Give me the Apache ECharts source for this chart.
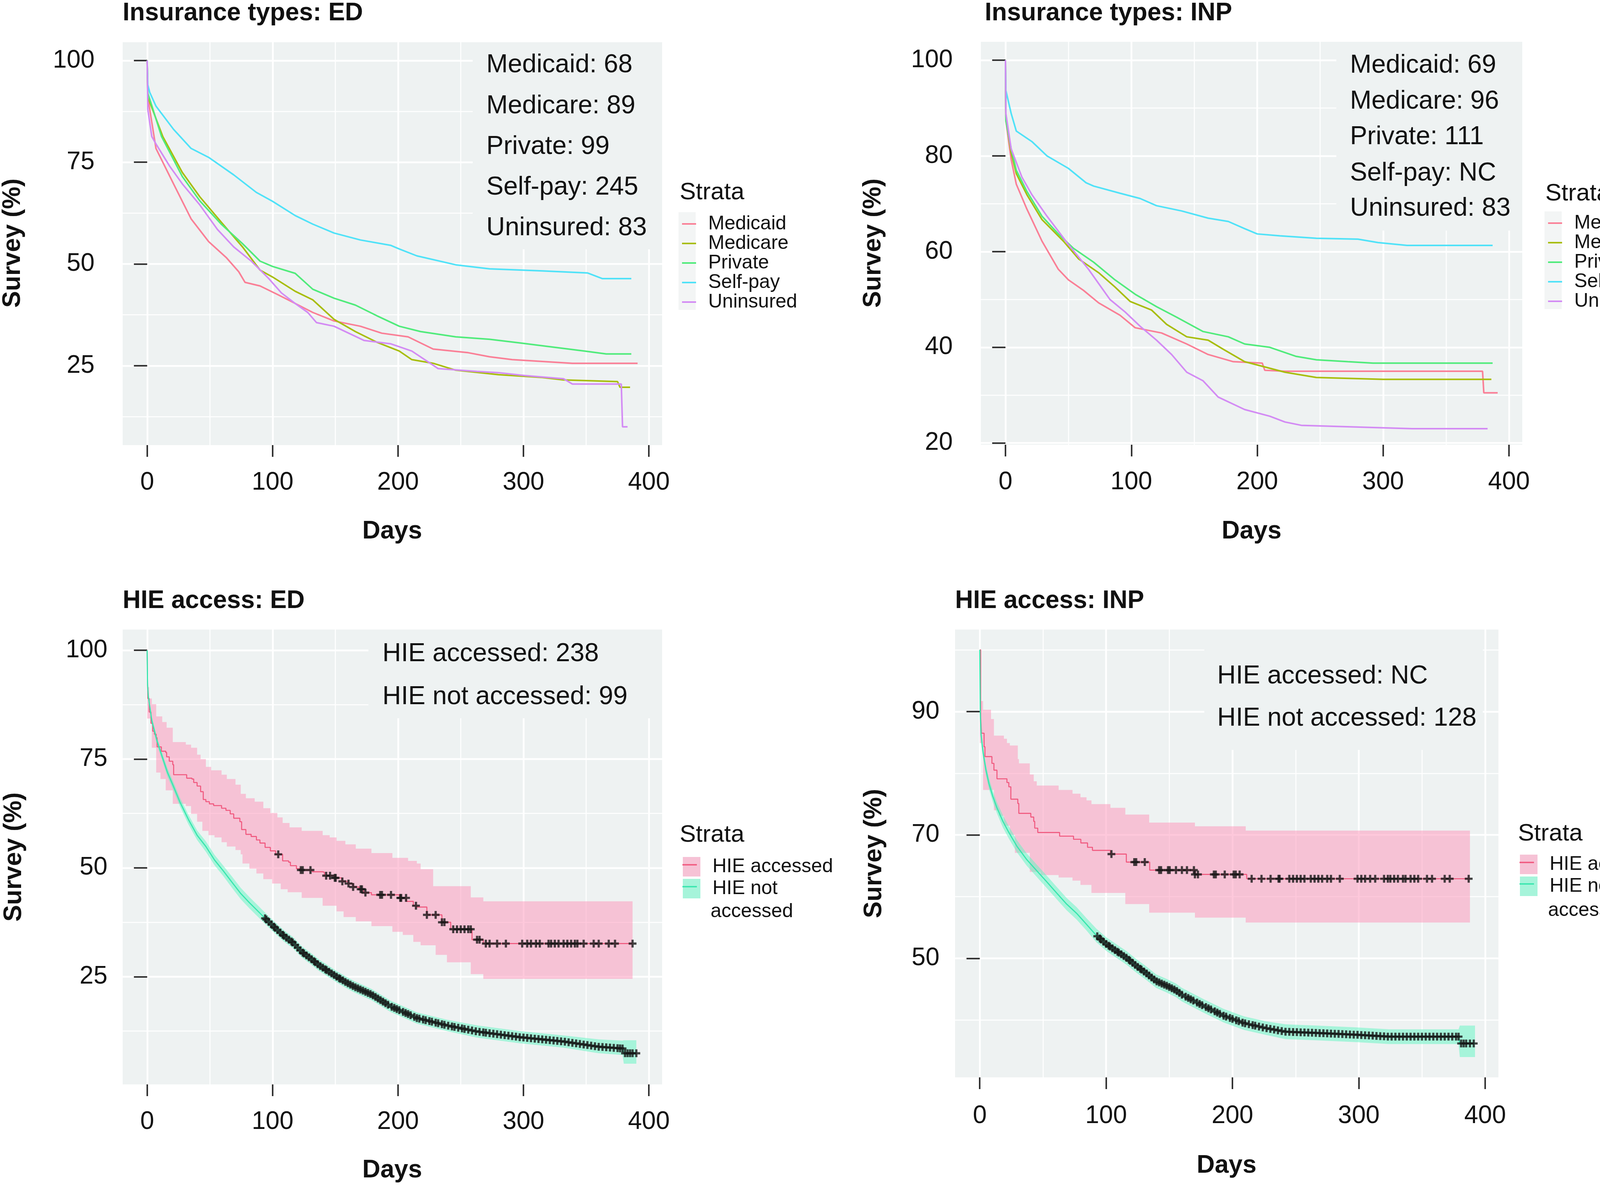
<!DOCTYPE html>
<html><head><meta charset="utf-8">
<script src="https://cdn.jsdelivr.net/npm/echarts@6/dist/echarts.min.js"></script>
<style>html,body{margin:0;padding:0;background:#fff}#c{width:4254px;height:3035px}</style>
</head><body><div id="c"></div><script>
// ---------------- DATA ----------------
const strataNames = ['Medicaid','Medicare','Private','Self-pay','Uninsured'];
const hieNames = ['HIE accessed','HIE not accessed'];
const xTicks = [0,100,200,300,400];
const xMinor = [50,150,250,350];
const yTicksTL = [25,50,75,100], yMinorTL = [12.5,37.5,62.5,87.5];
const yTicksTR = [20,40,60,80,100], yMinorTR = [30,50,70,90];
const yTicksBL = [25,50,75,100], yMinorBL = [12.5,37.5,62.5,87.5];
const yTicksBR = [50,70,90], yMinorBR = [40,60,80,100];

const annTL = ['Medicaid: 68','Medicare: 89','Private: 99','Self-pay: 245','Uninsured: 83'];
const annTR = ['Medicaid: 69','Medicare: 96','Private: 111','Self-pay: NC','Uninsured: 83'];
const annBL = ['HIE accessed: 238','HIE not accessed: 99'];
const annBR = ['HIE accessed: NC','HIE not accessed: 128'];

// Insurance types: ED  [day, survival %]
const edMedicaid = [[0,100],[0.5,91],[7,78.4],[21,69.7],[35,61.1],[49,55.5],[63,51.6],[73,48.1],[78,45.5],[90,44.6],[104,42.5],[118,40.3],[132,38.1],[149,36.0],[170,34.7],[187,33.0],[208,32.1],[228,29.1],[256,28.2],[273,27.2],[291,26.5],[339,25.6],[391,25.6]];
const edMedicare = [[0,100],[0.5,91],[12.5,81.3],[28,72.5],[42,66.5],[59,60.3],[76,54.2],[90,48.5],[100,46.8],[118,43.3],[132,41.2],[149,36.4],[166,33.4],[183,30.8],[201,28.6],[211,26.5],[228,25.6],[246,23.9],[280,22.8],[315,22.1],[332,21.5],[375,21.1],[377,19.7],[385,19.7]];
const edPrivate = [[0,100],[0.5,92],[11.5,81.3],[28,71.5],[42,65.5],[59,59.8],[76,55.0],[90,50.7],[100,49.4],[118,47.7],[132,43.8],[149,41.6],[166,39.9],[183,37.3],[201,34.7],[218,33.4],[246,32.1],[273,31.5],[297,30.6],[318,29.8],[349,28.6],[366,27.9],[386,27.9]];
const edSelfPay = [[0,100],[0.5,94],[2,92.2],[7,88.8],[21,83.1],[35,78.4],[49,76.2],[69,71.9],[87,67.6],[100,65.4],[118,61.9],[132,59.8],[149,57.6],[170,55.9],[194,54.6],[201,53.7],[215,52.0],[246,49.8],[273,48.8],[315,48.3],[351,47.8],[363,46.4],[386,46.4]];
const edUninsured = [[0,100],[0.5,88],[3.7,81.3],[7,79.5],[18,74.0],[28,69.7],[42,64.5],[56,58.5],[69,54.2],[83,50.7],[97,46.4],[107,42.9],[118,40.3],[128,38.1],[135,35.6],[149,34.7],[173,31.2],[194,30.4],[211,28.6],[232,24.3],[263,23.6],[280,23.3],[301,22.6],[332,21.8],[339,20.5],[378,20.5],[379,10.0],[383,10.0]];

// Insurance types: INP
const inpMedicaid = [[0,100],[0.3,87.4],[4.5,79.3],[8.6,74.1],[17,68.9],[29,62.2],[42,56.3],[50,54.1],[62,51.9],[74,49.3],[91,46.7],[103,44.1],[124,43.0],[144,40.7],[161,38.5],[181,37.0],[204,36.7],[206,35.2],[222,35.0],[379,35.0],[380,30.5],[391,30.5]];
const inpMedicare = [[0,100],[0.3,88.1],[4.5,80.7],[8.6,76.3],[17,71.9],[29,66.7],[46,62.2],[58,58.5],[74,55.6],[87,52.6],[99,49.6],[116,47.8],[128,44.8],[144,42.2],[161,41.5],[173,39.6],[190,37.0],[206,35.9],[222,34.8],[247,33.7],[300,33.3],[386,33.3]];
const inpPrivate = [[0,100],[0.3,87.4],[4.5,81.5],[8.6,77.0],[17,72.6],[29,67.4],[42,63.7],[54,60.7],[70,57.8],[87,54.1],[103,51.1],[120,48.5],[136,46.3],[157,43.3],[177,42.2],[190,40.7],[210,40.0],[231,38.1],[247,37.4],[272,37.0],[292,36.7],[387,36.7]];
const inpSelfPay = [[0,100],[0.3,93.7],[4.5,88.9],[8.6,85.2],[21,83.0],[33,80.0],[50,77.4],[64,74.4],[70,73.7],[91,72.2],[107,71.1],[120,69.6],[140,68.5],[161,67.0],[177,66.3],[190,64.8],[200,63.7],[218,63.3],[247,62.8],[280,62.6],[296,61.9],[319,61.3],[387,61.3]];
const inpUninsured = [[0,100],[0.3,88.9],[4.5,81.5],[13,75.6],[21,71.9],[33,67.4],[50,61.5],[66,56.3],[83,50.0],[95,47.4],[107,44.4],[120,41.5],[132,38.5],[144,34.8],[157,33.0],[169,29.6],[190,27.0],[210,25.6],[222,24.4],[235,23.7],[323,23.0],[383,23.0]];

// HIE access: ED
const edAcc = [[0,100],[0.5,88.9],[1.6,85.8],[3,83.2],[4.4,81.4],[5.8,80.7],[7.2,79.9],[7.9,77.8],[11.3,76.8],[14.8,76.5],[15.5,75.5],[17.6,74.5],[20.4,73.7],[21.1,71.4],[30.8,71.4],[31.5,70.6],[35.7,70.4],[37.1,69.6],[39.8,68.8],[42.6,67.5],[44.7,65.7],[46.8,65.2],[49.6,64.7],[53,64.3],[59.3,63.7],[62.8,63.2],[66.2,62.4],[69,61.4],[73.9,60.6],[75.3,58.8],[78.7,57.7],[82.9,57.2],[87.1,56.4],[89.9,55.7],[94,54.7],[98.2,53.9],[102.4,53.1],[108,51.6],[112.8,51.3],[114.2,50.5],[119,49.8],[122.5,49.5],[131.6,49.1],[139.9,49.0],[141.3,48.2],[149.6,47.7],[155.2,46.9],[160,46.4],[164.2,45.6],[169.1,45.1],[172.6,44.3],[178.8,43.8],[201,43.1],[206.6,42.3],[212.2,41.3],[215,41.0],[223,39.2],[235,37.5],[242,35.9],[259,33.5],[268,32.6],[387,32.6]];
const edAccHi = [[0,91.5],[1.6,88.9],[3.7,87.6],[7.2,84.8],[12,83.5],[15.5,82.2],[20.4,78.9],[30.8,78.3],[35,77.6],[39.8,76.0],[42.6,75.0],[46.8,73.2],[51,72.4],[59.3,71.4],[63.5,70.4],[70.4,69.1],[74.6,67.0],[78.7,66.0],[85.7,65.2],[92.6,63.7],[98.2,62.6],[103.8,61.6],[108,60.3],[113.5,59.3],[123.2,58.5],[139.9,57.5],[145.5,57.0],[151,56.2],[158,55.4],[166.3,54.4],[178.8,53.4],[195.5,52.3],[208,51.6],[215,51.0],[218,49.7],[228,45.8],[258,43.2],[268,42.3],[387,42.3]];
const edAccLo = [[0,84.3],[3.7,77.6],[7.2,71.9],[10.6,70.4],[14.8,67.8],[20.4,64.7],[30.8,64.2],[35,62.4],[39.8,60.6],[44,58.5],[48.9,57.5],[53.7,57.0],[59.3,55.9],[63.5,54.9],[70.4,54.1],[74.6,53.1],[76,51.0],[81.5,49.8],[87.1,48.7],[92.6,47.4],[99.6,46.4],[106.5,45.1],[112,44.4],[123.2,43.1],[139.9,41.3],[151,40.0],[156.6,38.7],[166.3,37.7],[178.8,36.6],[195.5,35.3],[203.8,34.6],[212.2,33.0],[218,32.2],[230,30.0],[239,28.3],[258,25.6],[268,24.5],[387,24.5]];
const edNot = [[0,100],[0.3,92],[0.9,89.4],[3.7,83.8],[7.9,79.1],[12,75.5],[16.2,71.9],[20.4,69.1],[26,65.2],[32.9,61.1],[39.8,57.5],[46.8,54.9],[53.7,51.8],[60.7,49.3],[67.6,46.7],[74.6,44.1],[81.5,42.0],[88.5,40.0],[94,38.4],[102.4,36.1],[109.3,34.3],[116.3,32.8],[123.2,30.7],[130.2,29.2],[137.1,27.6],[144.1,26.3],[151,25.0],[158,23.8],[165,22.7],[178.8,20.9],[194,18.2],[215,15.5],[239,13.8],[263,12.4],[297,11.1],[332,10.1],[360,8.9],[379,8.5],[380,7.4],[390,7.4]];
const edNotHi = [[0,100],[0.9,90.3],[3.7,84.7],[7.9,80.0],[12,76.4],[16.2,72.9],[20.4,70.1],[26,66.2],[32.9,62.2],[39.8,58.6],[46.8,56.1],[53.7,53.0],[60.7,50.5],[67.6,48.0],[74.6,45.4],[81.5,43.3],[88.5,41.3],[94,39.7],[102.4,37.4],[109.3,35.6],[116.3,34.1],[123.2,32.0],[130.2,30.5],[137.1,28.9],[144.1,27.6],[151,26.3],[158,25.1],[165,24.0],[178.8,22.2],[194,19.5],[215,16.8],[239,15.1],[263,13.8],[297,12.5],[332,11.5],[360,10.6],[379,10.3],[380,10.4],[390,10.4]];
const edNotLo = [[0,100],[0.9,88.5],[3.7,82.9],[7.9,78.2],[12,74.6],[16.2,70.9],[20.4,68.1],[26,64.2],[32.9,60.0],[39.8,56.4],[46.8,53.7],[53.7,50.6],[60.7,48.1],[67.6,45.4],[74.6,42.8],[81.5,40.7],[88.5,38.7],[94,37.1],[102.4,34.8],[109.3,33.0],[116.3,31.5],[123.2,29.4],[130.2,27.9],[137.1,26.3],[144.1,25.0],[151,23.7],[158,22.5],[165,21.4],[178.8,19.6],[194,16.9],[215,14.2],[239,12.5],[263,11.0],[297,9.7],[332,8.7],[360,7.4],[379,7.0],[380,5.0],[390,5.0]];
const edAccCensor = [104.5,122.5,124,130.2,142.7,145.8,149.6,150.3,155.6,160.5,164.2,170.2,171.2,174,185.8,187.2,194.4,201.8,202.5,206.4,214.3,223,230,235,237,244,247,250,253,256,258,263,265,270,273,279,286,299,303,306,310,313,320,322,325,328,332,335,338,341,343,348,356,360,368,373,387];
const edNotCensor = [94,95,97,99,101,102,104,106,108,109,111,113,115,116,118,120,122,124,125,127,129,131,133,134,136,138,140,142,143,145,147,149,151,153,154,156,158,160,162,164,166,168,170,172,174,176,178,180,182,184,186,188,190,192,195,197,199,201,204,206,208,210,213,215,217,220,222,225,227,230,232,235,237,240,243,245,248,251,253,256,259,262,265,268,270,273,276,279,282,285,288,291,294,297,300,303,306,309,312,315,318,321,324,327,330,333,336,339,342,345,348,351,354,357,360,363,366,369,372,375,377,379,381,383,385,387,390];

// HIE access: INP
const inpAcc = [[0,100],[0.7,89.2],[1.3,86.5],[3.4,84.3],[4.1,82.7],[9.6,81.6],[11.2,80.5],[13.6,79.1],[21.5,78.5],[23,77.8],[24.6,75.8],[30.1,75.1],[30.9,73.5],[40.4,72.9],[42.7,72.2],[43.5,71.1],[45.9,70.4],[63.2,69.8],[74.2,69.3],[80,68.7],[85.3,68.0],[89.2,67.5],[103.4,66.9],[116,65.6],[134.5,64.3],[170.3,63.6],[211.3,62.9],[388,62.9]];
const inpAccHi = [[0,91.7],[2.6,90.3],[8.9,88.8],[11.2,86.1],[19.1,85.6],[21.5,84.9],[23.8,84.5],[30.1,82.3],[31,81.6],[39.6,79.8],[42.7,78.7],[45.1,78.0],[62.4,77.3],[73.4,76.7],[79.7,76.1],[84.5,75.6],[88.4,75.0],[103.4,74.4],[115.2,73.3],[134.1,72.0],[170.3,71.4],[210.5,70.7],[388,70.7]];
const inpAccLo = [[0,84.9],[2.6,77.3],[11.2,74.0],[15.2,73.1],[19.1,71.5],[23.8,70.0],[27.8,67.1],[39.6,64.0],[48.2,63.5],[62.4,63.1],[73.4,62.6],[79.7,61.9],[88.4,60.6],[115.2,58.8],[134.1,57.4],[170.3,56.6],[210.5,55.8],[388,55.8]];
const inpNot = [[0,100],[0.4,90],[1,86.3],[2.6,83.4],[4.9,80.5],[7.3,78.3],[10.4,76.2],[13.6,74.4],[18.3,72.2],[23,70.4],[29.3,68.2],[37.2,66.0],[45.1,64.2],[53,62.4],[60.8,60.6],[68.7,58.8],[76.6,57.3],[84.5,55.5],[92.3,53.7],[100.2,52.3],[108,51.2],[116,50.1],[123.8,48.8],[131.7,47.6],[139.6,46.3],[147.5,45.6],[155.3,44.8],[160,44.1],[177,42.3],[193,40.7],[209,39.5],[226,38.7],[242,38.1],[267,37.9],[299,37.6],[324,37.3],[379,37.3],[380,36.2],[392,36.2]];
const inpNotHi = [[0,100],[1,87.2],[2.6,84.3],[4.9,81.4],[7.3,79.2],[10.4,77.1],[13.6,75.3],[18.3,73.2],[23,71.4],[29.3,69.2],[37.2,67.0],[45.1,65.2],[53,63.4],[60.8,61.6],[68.7,59.8],[76.6,58.3],[84.5,56.5],[92.3,54.8],[100.2,53.4],[108,52.3],[116,51.2],[123.8,49.9],[131.7,48.7],[139.6,47.4],[147.5,46.7],[155.3,45.9],[160,45.2],[177,43.4],[193,41.8],[209,40.6],[226,39.8],[242,39.3],[267,39.1],[299,38.8],[324,38.5],[379,38.5],[380,39.1],[392,39.1]];
const inpNotLo = [[0,100],[1,85.4],[2.6,82.5],[4.9,79.6],[7.3,77.4],[10.4,75.3],[13.6,73.5],[18.3,71.2],[23,69.4],[29.3,67.2],[37.2,65.0],[45.1,63.2],[53,61.4],[60.8,59.6],[68.7,57.8],[76.6,56.3],[84.5,54.5],[92.3,52.6],[100.2,51.2],[108,50.1],[116,49.0],[123.8,47.7],[131.7,46.5],[139.6,45.2],[147.5,44.5],[155.3,43.7],[160,43.0],[177,41.2],[193,39.6],[209,38.4],[226,37.6],[242,36.9],[267,36.7],[299,36.4],[324,36.1],[379,36.1],[380,34.0],[392,34.0]];
const inpAccCensor = [104.2,122.3,123.8,130.6,142,143.5,149,150.3,155.3,160,164,169.5,170.3,172.7,185.3,186.8,193.9,201,202.6,205.7,215.2,223,230.2,236.5,237.3,245,248,251,254,257,262,265,268,271,275,278,285,299,302,305,309,313,320,323,325,328,331,335,337,341,344,347,354,358,368,372,387];
const inpNotCensor = [93,95,96,98,100,102,103,105,107,109,110,112,114,116,118,119,121,123,125,127,128,130,132,134,136,138,140,142,144,146,148,150,152,154,156,158,160,163,165,167,169,172,174,176,179,181,183,186,188,190,193,195,198,200,203,205,208,210,213,216,218,221,224,227,230,233,236,239,242,245,248,251,254,257,260,263,266,269,272,275,278,281,284,287,290,293,296,299,302,305,308,311,314,317,320,323,326,329,332,335,338,341,344,347,350,353,356,359,362,365,368,371,374,377,379,381,383,385,388,391];

// ---------------- STYLE / LAYOUT ----------------
const FF = '"Liberation Sans", Arial, sans-serif';
const FFC = '"Liberation Sans"';
const PANEL = '#EEF2F2';
const TXT = '#111111';
const strataColors = ['#FA7F96','#A8BD0C','#50EB7B','#4FE2F8','#D38BF4'];
const accLine = '#F0587E', notLine = '#38E6AE';
const accRibbon = 'rgba(254,146,184,0.5)', notRibbon = 'rgba(94,246,194,0.5)';
const accKey = '#F6C2D5', notKey = '#A6F4DA';
const X_MIN = -19.55, X_MAX = 410.55;
const grids = [
  {left:314, top:108, width:1381, height:1031},
  {left:2511, top:107, width:1386, height:1031},
  {left:314, top:1611, width:1381, height:1164},
  {left:2445, top:1611, width:1391, height:1146}
];
const yRanges = [[5.5,104.5],[19.65,103.85],[0.25,104.75],[30.7,103.3]];
const yTicks = [yTicksTL,yTicksTR,yTicksBL,yTicksBR];
const yMinors = [yMinorTL,yMinorTR,yMinorBL,yMinorBR];
const yMargins = [72,72,39,40];
const xMargins = [64,64,64,67];

const chart = echarts.init(document.getElementById('c'), null, {renderer:'canvas'});

const xAxis = [], yAxis = [];
for (let g = 0; g < 4; g++) {
  xAxis.push({type:'value', gridIndex:g, min:X_MIN, max:X_MAX, axisLine:{show:false},
    axisTick:{show:true, customValues:xTicks, length:30, lineStyle:{color:'#333', width:4}},
    axisLabel:{show:true, customValues:xTicks, margin:xMargins[g], fontSize:64, fontFamily:FF, color:TXT},
    splitLine:{show:true, lineStyle:{color:'#FFFFFF', width:4.5}}});
  yAxis.push({type:'value', gridIndex:g, min:yRanges[g][0], max:yRanges[g][1], axisLine:{show:false},
    axisTick:{show:true, customValues:yTicks[g], length:34, lineStyle:{color:'#333', width:4}},
    axisLabel:{show:true, customValues:yTicks[g], margin:yMargins[g], fontSize:64, fontFamily:FF, color:TXT},
    splitLine:{show:true, lineStyle:{color:'#FFFFFF', width:4.5}}});
}
for (let g = 0; g < 4; g++) {
  xAxis.push({type:'value', gridIndex:g, min:X_MIN, max:X_MAX, axisLine:{show:false},
    axisTick:{show:false, customValues:xMinor}, axisLabel:{show:false},
    splitLine:{show:true, lineStyle:{color:'#FFFFFF', width:2.5}}});
  yAxis.push({type:'value', gridIndex:g, min:yRanges[g][0], max:yRanges[g][1], axisLine:{show:false},
    axisTick:{show:false, customValues:yMinors[g]}, axisLabel:{show:false},
    splitLine:{show:true, lineStyle:{color:'#FFFFFF', width:2.5}}});
}

function lineSeries(name, data, g, color, width, step) {
  return {type:'line', name, xAxisIndex:g, yAxisIndex:g, data, symbol:'none', showSymbol:false,
    step: step ? 'end' : false, lineStyle:{color, width}, itemStyle:{color}, z:3, silent:true, animation:false};
}
function valueAt(pts, d, step) {
  for (let i = pts.length - 1; i >= 0; i--) {
    if (pts[i][0] <= d) {
      if (step || i === pts.length - 1) return pts[i][1];
      const a = pts[i], b = pts[i + 1];
      return a[1] + (b[1] - a[1]) * (d - a[0]) / (b[0] - a[0]);
    }
  }
  return pts[0][1];
}
function bandSeries(name, hi, lo, g, color, step) {
  return {type:'custom', name, xAxisIndex:g, yAxisIndex:g, data:[[hi[0][0], hi[0][1]]], silent:true, z:2, animation:false,
    renderItem: function (params, api) {
      const pts = [];
      for (let i = 0; i < hi.length; i++) {
        pts.push(api.coord([hi[i][0], hi[i][1]]));
        if (step && i < hi.length - 1) pts.push(api.coord([hi[i + 1][0], hi[i][1]]));
      }
      for (let i = lo.length - 1; i >= 0; i--) {
        if (step && i < lo.length - 1) pts.push(api.coord([lo[i + 1][0], lo[i][1]]));
        pts.push(api.coord([lo[i][0], lo[i][1]]));
      }
      return {type:'polygon', shape:{points:pts}, style:{fill:color}};
    }};
}
const PLUS = 'path://M3.6,0H6.4V3.6H10V6.4H6.4V10H3.6V6.4H0V3.6H3.6Z';
function censorSeries(name, days, curve, g, step) {
  return {type:'scatter', name, xAxisIndex:g, yAxisIndex:g, data: days.map(d => [d, valueAt(curve, d, step)]),
    symbol:PLUS, symbolSize:20, itemStyle:{color:'#161616'}, z:4, silent:true, animation:false};
}

const edCurves = [edMedicaid, edMedicare, edPrivate, edSelfPay, edUninsured];
const inpCurves = [inpMedicaid, inpMedicare, inpPrivate, inpSelfPay, inpUninsured];
const series = [];
strataNames.forEach((n, i) => series.push(lineSeries(n, edCurves[i], 0, strataColors[i], 4, false)));
strataNames.forEach((n, i) => series.push(lineSeries(n, inpCurves[i], 1, strataColors[i], 4, false)));
// HIE ED
series.push(bandSeries('HIE accessed CI', edAccHi, edAccLo, 2, accRibbon, true));
series.push(bandSeries('HIE not accessed CI', edNotHi, edNotLo, 2, notRibbon, false));
series.push(lineSeries('HIE accessed', edAcc, 2, accLine, 2.6, true));
series.push(lineSeries('HIE not accessed', edNot, 2, notLine, 3, false));
series.push(censorSeries('HIE accessed censored', edAccCensor, edAcc, 2, true));
series.push(censorSeries('HIE not accessed censored', edNotCensor, edNot, 2, false));
// HIE INP
series.push(bandSeries('HIE accessed CI', inpAccHi, inpAccLo, 3, accRibbon, true));
series.push(bandSeries('HIE not accessed CI', inpNotHi, inpNotLo, 3, notRibbon, false));
series.push(lineSeries('HIE accessed', inpAcc, 3, accLine, 2.6, true));
series.push(lineSeries('HIE not accessed', inpNot, 3, notLine, 3, false));
series.push(censorSeries('HIE accessed censored', inpAccCensor, inpAcc, 3, true));
series.push(censorSeries('HIE not accessed censored', inpNotCensor, inpNot, 3, false));

// ---------------- TEXT / DECOR ----------------
const graphic = [];
function txt(x, y, text, size, opts) {
  opts = opts || {};
  graphic.push({type:'text', x, y, rotation: opts.rot || 0, z:100, silent:true,
    style:{text, font:(opts.bold ? 'bold ' : '') + size + 'px ' + FFC, fill:TXT,
      align: opts.align || 'left', verticalAlign:'middle'}});
}
function rect(x, y, w, h, fill) {
  graphic.push({type:'rect', z:1, silent:true, shape:{x, y, width:w, height:h}, style:{fill}});
}
// titles
txt(314, 34, 'Insurance types: ED', 64, {bold:true});
txt(2521, 34, 'Insurance types: INP', 64, {bold:true});
txt(314, 1538, 'HIE access: ED', 64, {bold:true});
txt(2445, 1538, 'HIE access: INP', 64, {bold:true});
// axis names
const daysPos = [[1004,1360],[3204,1360],[1004,2995],[3140,2983]];
daysPos.forEach(p => txt(p[0], p[1], 'Days', 64, {bold:true, align:'center'}));
const survPos = [[33,622],[2236,622],[36,2193],[2238,2184]];
survPos.forEach(p => txt(p[0], p[1], 'Survey (%)', 64, {bold:true, align:'center', rot:Math.PI/2}));
// annotation boxes + text
rect(1210, 108, 485, 530, PANEL);
rect(3421, 107, 476, 483, PANEL);
rect(943, 1611, 752, 227, PANEL);
rect(3083, 1611, 713, 308, PANEL);
[167,272,376,480,584].forEach((y, i) => txt(1245, y, annTL[i], 66));
[168,260,351,444,534].forEach((y, i) => txt(3456, y, annTR[i], 66));
[1674,1784].forEach((y, i) => txt(979, y, annBL[i], 66));
[1731,1839].forEach((y, i) => txt(3116, y, annBR[i], 66));
// legend titles and key backgrounds
txt(1740, 493, 'Strata', 62);
txt(3956, 496, 'Strata', 62);
txt(1740, 2137, 'Strata', 62);
txt(3886, 2134, 'Strata', 62);
rect(1737, 543, 44, 250, '#F3F5F5');
rect(3954, 541, 44, 250, '#F3F5F5');
// key lines in HIE legends
function kline(x1, x2, y, c) {
  graphic.push({type:'line', z:100, silent:true, shape:{x1, y1:y, x2, y2:y}, style:{stroke:c, lineWidth:3.5}});
}
kline(1747, 1784, 2213, accLine); kline(1747, 1784, 2269, notLine);
kline(3890, 3927, 2207, accLine); kline(3890, 3927, 2262, notLine);
txt(1819, 2333, 'accessed', 50);
txt(3963, 2330, 'accessed', 50);

const LINE_ICON = 'path://M0,0H90V10H0Z';
function topLegend(left, top) {
  return {orient:'vertical', left, top, itemWidth:36, itemHeight:50, itemGap:0, selectedMode:false,
    icon: LINE_ICON, symbolKeepAspect:true,
    data: strataNames.map((n, i) => ({name:n, icon:LINE_ICON, itemStyle:{color:strataColors[i], borderWidth:0}})),
    textStyle:{fontSize:50, fontFamily:FF, color:TXT, padding:[0,0,0,26]}};
}
function hieLegend(left, top) {
  return {orient:'vertical', left, top, itemWidth:45, itemHeight:50, itemGap:6, selectedMode:false, icon:'rect',
    data:[{name:hieNames[0], itemStyle:{color:accKey, borderWidth:0}}, {name:hieNames[1], itemStyle:{color:notKey, borderWidth:0}}],
    formatter: n => (n === hieNames[1] ? 'HIE not' : n),
    textStyle:{fontSize:50, fontFamily:FF, color:TXT, padding:[0,0,0,26]}};
}

chart.setOption({
  animation:false,
  backgroundColor:'#FFFFFF',
  grid: grids.map(g => Object.assign({show:true, backgroundColor:PANEL, borderWidth:0, containLabel:false}, g)),
  xAxis, yAxis, series,
  legend:[topLegend(1741, 543), topLegend(3958, 541), hieLegend(1743, 2188), hieLegend(3886, 2182)],
  graphic
});
</script></body></html>
